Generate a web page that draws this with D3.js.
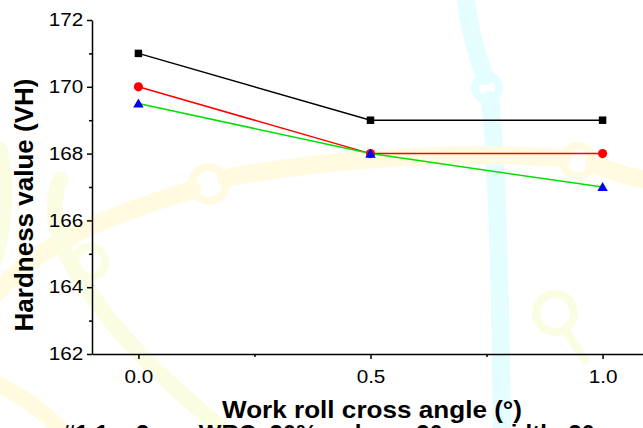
<!DOCTYPE html>
<html>
<head>
<meta charset="utf-8">
<script src="https://cdn.jsdelivr.net/npm/d3@7"></script>
<style>
  body { margin: 0; background: #fff; }
  svg { display: block; font-family: Arial, "Liberation Sans", sans-serif; }
  .tick text { transform-box: fill-box; transform-origin: center; transform: scaleX(1.15); }
</style>
</head>
<body>
<div id="chart"></div>
<script>
const angles = [0.0, 0.5, 1.0]
const seriesBlack = [171, 169, 169]
const seriesRed = [170, 168, 168]
const seriesGreen = [169.5, 168, 167]
const yTicks = [162, 164, 166, 168, 170, 172]
const yMinor = [163, 165, 167, 169, 171]
const xTicks = [0.0, 0.5, 1.0]
const xMinor = [0.25, 0.75]

const W = 643, H = 428
const M = {TOP: 20, BOTTOM: 74, LEFT: 92}

const svg = d3.select("#chart").append("svg")
    .attr("width", W)
    .attr("height", H)

// faint watermark behind the plot
const CYAN = "#e4fdff", YEL = "#fffae0", YEL2 = "#fbfde2"
const bg = svg.append("g").attr("fill", "none").attr("stroke-linecap", "round")
bg.append("path")
    .attr("d", "M465,-5 C470,30 478,60 485,76 M490,100 C496,150 500,250 502,440")
    .attr("stroke", CYAN).attr("stroke-width", 18)
bg.append("circle").attr("cx", 487).attr("cy", 88).attr("r", 12)
    .attr("stroke", CYAN).attr("stroke-width", 8)
bg.append("path")
    .attr("d", "M-10,300 C40,240 110,215 192,190 M226,178 C320,160 450,150 562,158 M594,164 C615,172 630,178 660,182")
    .attr("stroke", YEL).attr("stroke-width", 18)
bg.append("circle").attr("cx", 209).attr("cy", 184).attr("r", 17)
    .attr("stroke", YEL).attr("stroke-width", 8)
bg.append("circle").attr("cx", 578).attr("cy", 161).attr("r", 15)
    .attr("stroke", YEL).attr("stroke-width", 8)
bg.append("path")
    .attr("d", "M60,180 C40,230 80,280 110,320 C150,370 200,410 235,440 M0,150 C10,200 0,240 -5,260")
    .attr("stroke", YEL2).attr("stroke-width", 16)
bg.append("circle").attr("cx", 90).attr("cy", 262).attr("r", 15)
    .attr("stroke", YEL2).attr("stroke-width", 8)
bg.append("circle").attr("cx", 555).attr("cy", 313).attr("r", 19)
    .attr("stroke", YEL2).attr("stroke-width", 8)
bg.append("path").attr("d", "M565,330 L585,360")
    .attr("stroke", YEL2).attr("stroke-width", 8)
bg.append("path").attr("d", "M-10,380 C20,395 45,410 70,440")
    .attr("stroke", YEL).attr("stroke-width", 16)

const x = d3.scaleLinear()
    .domain([-0.1, 1.1])
    .range([M.LEFT, 649])

const y = d3.scaleLinear()
    .domain([162, 172])
    .range([H - M.BOTTOM, M.TOP])

// y axis
const yAxis = svg.append("g")
    .attr("transform", `translate(${M.LEFT},0)`)
    .call(d3.axisLeft(y).tickValues(yTicks).tickSize(5).tickSizeOuter(0).tickPadding(6))
yAxis.selectAll("text").attr("font-size", 18).attr("font-family", null).attr("fill", "#000")
svg.append("g")
    .attr("transform", `translate(${M.LEFT},0)`)
    .call(d3.axisLeft(y).tickValues(yMinor).tickSize(3).tickFormat(""))
    .select(".domain").remove()

// x axis
const xAxis = svg.append("g")
    .attr("transform", `translate(0,${H - M.BOTTOM})`)
    .call(d3.axisBottom(x).tickValues(xTicks).tickSize(5).tickSizeOuter(0)
        .tickFormat(d3.format(".1f")))
xAxis.selectAll("text").attr("font-size", 18).attr("font-family", null).attr("fill", "#000")
    .attr("y", 29).attr("dy", 0)
svg.append("g")
    .attr("transform", `translate(0,${H - M.BOTTOM})`)
    .call(d3.axisBottom(x).tickValues(xMinor).tickSize(3).tickFormat(""))
    .select(".domain").remove()

svg.selectAll(".domain, .tick line").attr("stroke", "#000").attr("stroke-width", 1.5)

// titles
svg.append("text")
    .attr("transform", "translate(33,205) rotate(-90)")
    .attr("text-anchor", "middle")
    .attr("font-size", 26).attr("font-weight", "bold")
    .text("Hardness value (VH)")

svg.append("text")
    .attr("x", 372).attr("y", 418)
    .attr("text-anchor", "middle")
    .attr("font-size", 24).attr("font-weight", "bold")
    .attr("textLength", 300).attr("lengthAdjust", "spacingAndGlyphs")
    .text("Work roll cross angle (°)")

svg.append("text")
    .attr("x", 62).attr("y", 442)
    .attr("font-size", 24).attr("font-weight", "bold")
    .text("#1.1 × 3mm  WRC, 30% reduce, 30mm width, 20mm sheet thickness")

// series
const series = [
    {values: seriesBlack, line: "#000000", fill: "#000000", shape: "square"},
    {values: seriesRed, line: "#ff0000", fill: "#ff0000", shape: "circle"},
    {values: seriesGreen, line: "#00e000", fill: "#0000ff", shape: "triangle"}
]
const symbolFor = {square: d3.symbolSquare, circle: d3.symbolCircle, triangle: d3.symbolTriangle}
const sizeFor = {square: 56, circle: 66, triangle: 48}

const line = d3.line()
    .x((d, i) => x(angles[i]))
    .y(d => y(d))

series.forEach(s => {
    svg.append("path")
        .datum(s.values)
        .attr("fill", "none")
        .attr("stroke", s.line)
        .attr("stroke-width", 1.5)
        .attr("d", line)
})
series.forEach(s => {
    svg.append("g").selectAll("path")
        .data(s.values)
        .enter().append("path")
        .attr("transform", (d, i) => `translate(${x(angles[i])},${y(d) + (s.shape === "triangle" ? 1 : 0)})`)
        .attr("d", d3.symbol().type(symbolFor[s.shape]).size(sizeFor[s.shape]))
        .attr("fill", s.fill)
})
</script>
</body>
</html>
